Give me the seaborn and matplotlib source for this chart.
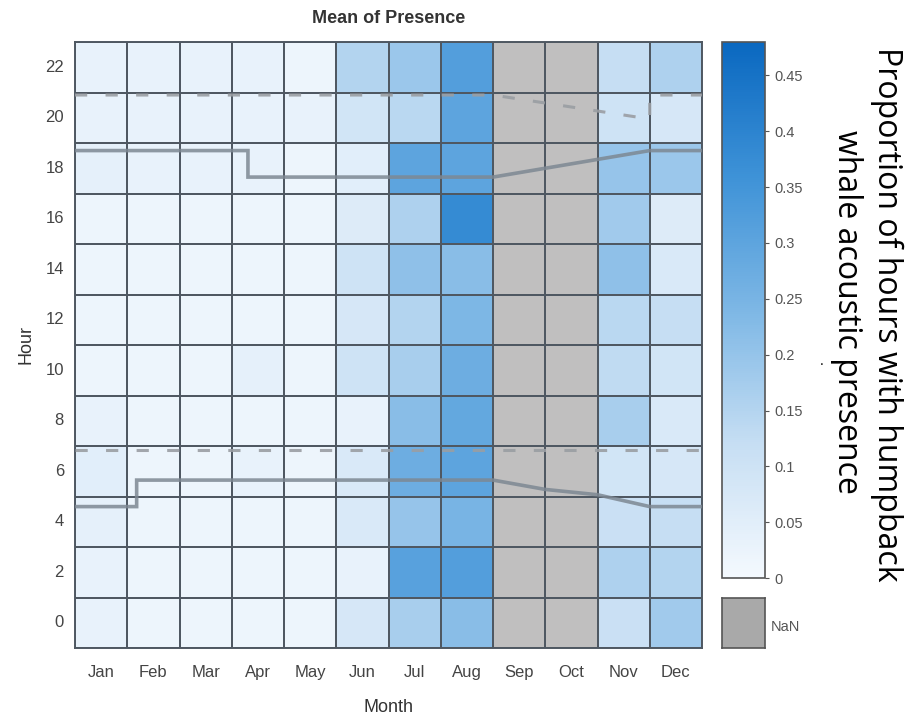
import numpy as np
import pandas as pd
import matplotlib
matplotlib.use("Agg")
import matplotlib.pyplot as plt
import seaborn as sns
from matplotlib.colors import LinearSegmentedColormap

# ---------------- data ----------------
months = ["Jan", "Feb", "Mar", "Apr", "May", "Jun", "Jul", "Aug", "Sep", "Oct", "Nov", "Dec"]
hours = [22, 20, 18, 16, 14, 12, 10, 8, 6, 4, 2, 0]  # top -> bottom

nan = np.nan
jan = [0.03, 0.03, 0.04, 0.02, 0.02, 0.02, 0.02, 0.03, 0.05, 0.04, 0.03, 0.03]
feb = [0.03, 0.03, 0.03, 0.02, 0.02, 0.02, 0.02, 0.02, 0.02, 0.02, 0.02, 0.02]
mar = [0.03, 0.03, 0.03, 0.02, 0.02, 0.02, 0.02, 0.02, 0.02, 0.02, 0.02, 0.02]
apr = [0.03, 0.03, 0.03, 0.02, 0.02, 0.02, 0.04, 0.02, 0.03, 0.02, 0.02, 0.02]
may = [0.02, 0.03, 0.02, 0.02, 0.02, 0.02, 0.02, 0.02, 0.02, 0.02, 0.02, 0.02]
jun = [0.15, 0.09, 0.05, 0.06, 0.10, 0.08, 0.10, 0.03, 0.07, 0.07, 0.03, 0.08]
jul = [0.19, 0.14, 0.30, 0.16, 0.21, 0.15, 0.17, 0.22, 0.27, 0.20, 0.31, 0.17]
aug = [0.32, 0.30, 0.30, 0.38, 0.22, 0.24, 0.27, 0.29, 0.30, 0.25, 0.32, 0.22]
sep = [nan] * 12
oct_ = [nan] * 12
nov = [0.12, 0.10, 0.20, 0.18, 0.21, 0.14, 0.13, 0.17, 0.09, 0.11, 0.16, 0.11]
dec = [0.16, 0.08, 0.19, 0.06, 0.07, 0.12, 0.09, 0.07, 0.08, 0.12, 0.15, 0.18]

# sunrise / sunset style reference lines (x in months from start of Jan, y in hours)
dusk_x = [0, 3.31, 3.31, 8.0, 11.0, 12.0]
dusk_h = [18.7, 18.7, 17.65, 17.65, 18.7, 18.7]
dawn_x = [0, 1.18, 1.18, 8.0, 9.0, 10.0, 11.0, 12.0]
dawn_h = [4.6, 4.6, 5.65, 5.65, 5.28, 5.07, 4.6, 4.6]
twil_end_x = [0, 8.0, 11.0, 11.0, 12.0]
twil_end_h = [20.9, 20.9, 19.95, 20.9, 20.9]
twil_start_x = [0, 12.0]
twil_start_h = [6.85, 6.85]

cbar_ticks = [0, 0.05, 0.1, 0.15, 0.2, 0.25, 0.3, 0.35, 0.4, 0.45]
cbar_labels = ["0", "0.05", "0.1", "0.15", "0.2", "0.25", "0.3", "0.35", "0.4", "0.45"]
vmax = 0.48

# ---------------- figure ----------------
df = pd.DataFrame(
    np.column_stack([jan, feb, mar, apr, may, jun, jul, aug, sep, oct_, nov, dec]),
    index=hours, columns=months)

sns.set_style("white")
plt.rcParams["font.family"] = ["Liberation Sans", "DejaVu Sans"]

fig = plt.figure(figsize=(9.11, 7.2), dpi=100)
ax = fig.add_axes([75 / 911, 1 - 648 / 720, 627 / 911, 606 / 720])
cax = fig.add_axes([722 / 911, 1 - 578 / 720, 43 / 911, 536 / 720])
nax = fig.add_axes([722 / 911, 1 - 648 / 720, 43 / 911, 50 / 720])

cmap = LinearSegmentedColormap.from_list(
    "wb", ["#f4f9fe", "#c6def3", "#7db7e5", "#3e92d7", "#0a68c0"])

ax.set_facecolor("#c0bfbf")
sns.heatmap(df, ax=ax, cbar_ax=cax, cmap=cmap, vmin=0, vmax=vmax,
            linewidths=1.4, linecolor="#4f5862",
            cbar_kws={"ticks": cbar_ticks})

for sp in ax.spines.values():
    sp.set_visible(True)
    sp.set_color("#4f5862")
    sp.set_linewidth(1.4)

ax.set_xticks(np.arange(len(months)) + 0.5)
ax.set_xticklabels(months, rotation=0, fontsize=12, color="#444444")
ax.set_yticks(np.arange(len(hours)) + 0.5)
ax.set_yticklabels([str(h) for h in hours], rotation=0, fontsize=12, color="#444444")
ax.tick_params(axis="x", length=0, pad=12)
ax.tick_params(axis="y", length=0, pad=8)
ax.set_xlabel("Month", fontsize=13, color="#333333", labelpad=14)
ax.set_ylabel("Hour", fontsize=13, color="#333333", labelpad=8)
ax.set_title("Mean of Presence", fontsize=13, fontweight="bold", color="#333333", pad=14)

# overlay lines on a twin axis in hour units
ax2 = ax.twinx()
ax2.set_ylim(-1, 23)
ax2.set_xlim(0, 12)
ax2.axis("off")
ax2.plot(dusk_x, dusk_h, color="#7d8893", lw=2.6, alpha=0.85, solid_joinstyle="miter")
ax2.plot(dawn_x, dawn_h, color="#7d8893", lw=2.6, alpha=0.85, solid_joinstyle="miter")
ax2.plot(twil_end_x, twil_end_h, color="#9a9ea3", lw=2.2, ls=(0, (4, 6)), alpha=0.9)
ax2.plot(twil_start_x, twil_start_h, color="#9a9ea3", lw=2.2, ls=(0, (4, 6)), alpha=0.9)

# colorbar styling
cax.tick_params(labelsize=10.5, labelcolor="#555555", length=3, color="#555555")
cax.set_yticklabels(cbar_labels)
cb = ax.collections[0].colorbar
cb.outline.set_edgecolor("#555555")
cb.outline.set_linewidth(1.2)

# NaN swatch
nax.set_facecolor("#a9a9a9")
nax.set_xticks([])
nax.set_yticks([])
for sp in nax.spines.values():
    sp.set_color("#555555")
    sp.set_linewidth(1.2)
fig.text(771 / 911, 1 - 627 / 720, "NaN", fontsize=10.5, color="#555555", va="center", ha="left")

# colorbar label
lab_font = ["Open Sans", "DejaVu Sans"]
fig.text(887 / 911, 1 - 314 / 720, "Proportion of hours with humpback",
         rotation=-90, fontsize=23, family=lab_font, color="black",
         ha="center", va="center")
fig.text(846 / 911, 1 - 312 / 720, "whale acoustic presence",
         rotation=-90, fontsize=23, family=lab_font, color="black",
         ha="center", va="center")
fig.text(822 / 911, 1 - 361 / 720, ".", fontsize=10, color="black", ha="center", va="center")

fig.savefig("out.png", dpi=100)
